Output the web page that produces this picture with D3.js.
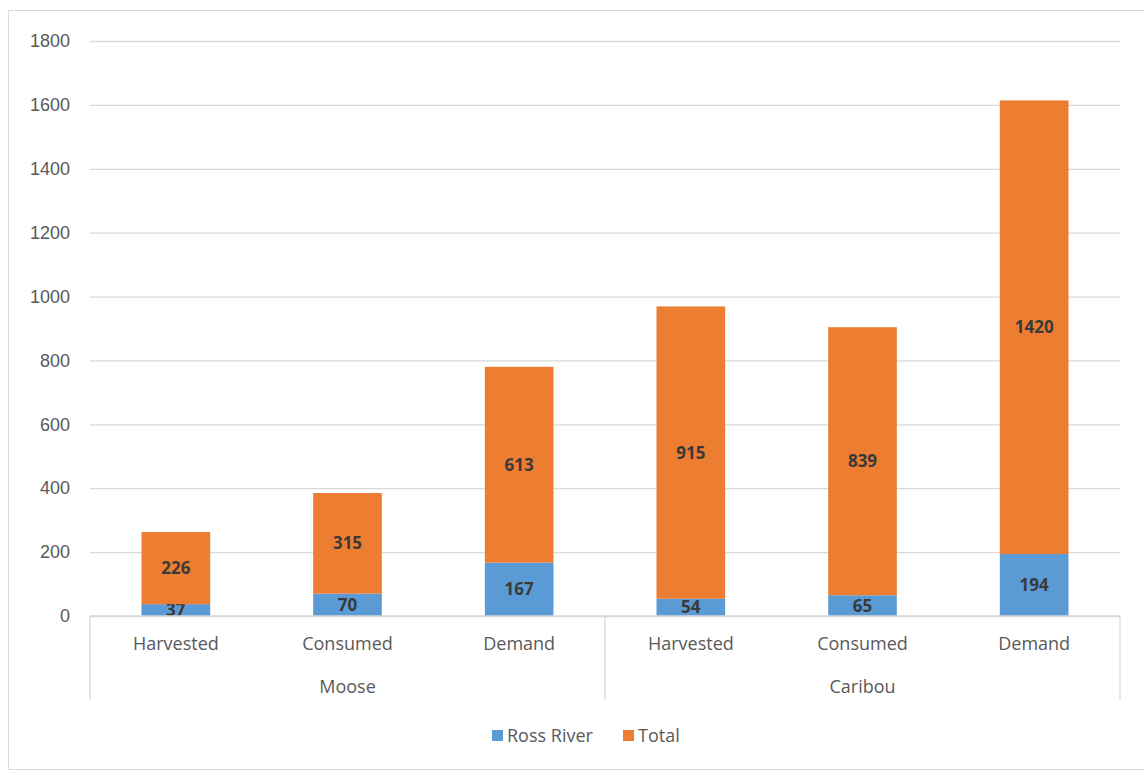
<!DOCTYPE html>
<html>
<head>
<meta charset="utf-8">
<script src="https://cdn.jsdelivr.net/npm/d3@7"></script>
<style>
  body { margin: 0; background: #fff; }
  svg { font-family: "Open Sans", "Noto Sans", sans-serif; }
</style>
</head>
<body>
<div id="chart"></div>
<script>
// data
var groups = ['Moose', 'Caribou']
var categories = ['Harvested', 'Consumed', 'Demand', 'Harvested', 'Consumed', 'Demand']
var rossRiver = [37, 70, 167, 54, 65, 194]
var total = [226, 315, 613, 915, 839, 1420]
var yTicks = [0, 200, 400, 600, 800, 1000, 1200, 1400, 1600, 1800]
var seriesNames = ['Ross River', 'Total']
var colors = ['#5B9BD5', '#ED7D31']

var W = 1144, H = 773
var margin = { top: 41, right: 24, bottom: 157, left: 90 }
var width = W - margin.left - margin.right
var height = H - margin.top - margin.bottom

var svg = d3.select('#chart').append('svg')
  .attr('width', W)
  .attr('height', H)

// frame
svg.append('rect')
  .attr('x', 8.5).attr('y', 10.5)
  .attr('width', W - 8).attr('height', H - 14)
  .attr('fill', '#fff')
  .attr('stroke', '#d9d9d9')

var g = svg.append('g')
  .attr('transform', 'translate(' + margin.left + ',' + margin.top + ')')

var x = d3.scaleBand()
  .domain(d3.range(categories.length))
  .range([0, width])
  .paddingInner(0.6)
  .paddingOuter(0.3)

var y = d3.scaleLinear()
  .domain([0, 1800])
  .range([height, 0])

// gridlines + y labels
var yAxis = d3.axisLeft(y)
  .tickValues(yTicks)
  .tickSize(-width)
  .tickPadding(20)
  .tickFormat(d3.format('d'))
g.append('g')
  .call(yAxis)
  .call(function (a) {
    a.select('.domain').remove()
    a.selectAll('.tick line').attr('stroke', '#d9d9d9').attr('stroke-width', 1.3)
    a.selectAll('.tick text')
      .attr('fill', '#595959')
      .attr('font-size', 18)
  })

// stacked bars
var stackData = categories.map(function (c, i) {
  return { i: i, 'Ross River': rossRiver[i], 'Total': total[i] }
})
var stacked = d3.stack().keys(seriesNames)(stackData)

var layers = g.selectAll('.layer')
  .data(stacked)
  .enter().append('g')
  .attr('class', 'layer')
  .attr('fill', function (d, k) { return colors[k] })

layers.selectAll('rect')
  .data(function (d) { return d })
  .enter().append('rect')
  .attr('x', function (d) { return x(d.data.i) })
  .attr('width', x.bandwidth())
  .attr('y', function (d) { return y(d[1]) })
  .attr('height', function (d) { return y(d[0]) - y(d[1]) })

// data labels
layers.selectAll('text')
  .data(function (d) { return d.map(function (p) { return { p: p, key: d.key } }) })
  .enter().append('text')
  .attr('x', function (d) { return x(d.p.data.i) + x.bandwidth() / 2 })
  .attr('y', function (d) { return (y(d.p[0]) + y(d.p[1])) / 2 })
  .attr('dy', '0.35em')
  .attr('text-anchor', 'middle')
  .attr('fill', '#3a3a3a')
  .attr('font-size', 17)
  .attr('font-weight', 'bold')
  .text(function (d) { return d.p.data[d.key] })

// category axis (two levels)
var axisG = g.append('g').attr('transform', 'translate(0,' + height + ')')
axisG.append('line')
  .attr('x1', 0).attr('x2', width)
  .attr('stroke', '#d9d9d9').attr('stroke-width', 1.3)

var per = width / categories.length
var seps = [0, per * 3, width]
axisG.selectAll('.sep')
  .data(seps)
  .enter().append('line')
  .attr('x1', function (d) { return d }).attr('x2', function (d) { return d })
  .attr('y1', 0).attr('y2', 84)
  .attr('stroke', '#d9d9d9').attr('stroke-width', 1.3)

axisG.selectAll('.cat')
  .data(categories)
  .enter().append('text')
  .attr('x', function (d, i) { return x(i) + x.bandwidth() / 2 })
  .attr('y', 34)
  .attr('text-anchor', 'middle')
  .attr('fill', '#595959')
  .attr('font-size', 18)
  .text(function (d) { return d })

axisG.selectAll('.grp')
  .data(groups)
  .enter().append('text')
  .attr('x', function (d, i) { return per * 3 * i + per * 1.5 })
  .attr('y', 77)
  .attr('text-anchor', 'middle')
  .attr('fill', '#595959')
  .attr('font-size', 18)
  .text(function (d) { return d })

// legend
var legend = svg.append('g').attr('transform', 'translate(492,736)')
var items = legend.selectAll('g')
  .data(seriesNames)
  .enter().append('g')
  .attr('transform', function (d, i) { return 'translate(' + (i * 131) + ',0)' })
items.append('rect')
  .attr('x', 0).attr('y', -6)
  .attr('width', 11).attr('height', 11)
  .attr('fill', function (d, i) { return colors[i] })
items.append('text')
  .attr('x', 15).attr('dy', '0.35em')
  .attr('fill', '#595959')
  .attr('font-size', 18)
  .text(function (d) { return d })
</script>
</body>
</html>
